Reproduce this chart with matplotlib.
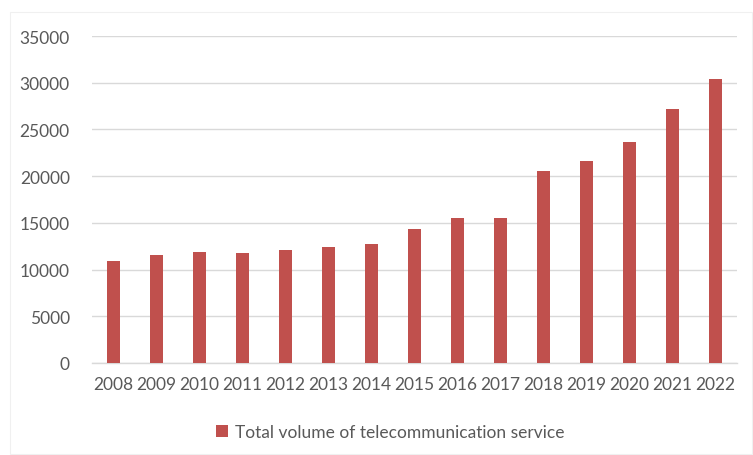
import matplotlib
matplotlib.use("Agg")
import matplotlib.pyplot as plt
from matplotlib.patches import Rectangle

years = ["2008", "2009", "2010", "2011", "2012", "2013", "2014", "2015",
         "2016", "2017", "2018", "2019", "2020", "2021", "2022"]
volume = [10890, 11540, 11890, 11820, 12110, 12390, 12790, 14290,
          15500, 15500, 20540, 21640, 23610, 27180, 30430]
series_name = "Total volume of telecommunication service"
y_ticks = [0, 5000, 10000, 15000, 20000, 25000, 30000, 35000]

plt.rcParams['font.family'] = ['Lato', 'DejaVu Sans']
text_color = '#595959'
bar_color = '#c0504d'
grid_color = '#d9d9d9'

fig = plt.figure(figsize=(7.53, 4.56), dpi=100)
fig.patch.set_facecolor('white')
# outer chart border (very faint)
fig.add_artist(Rectangle((10/753, 1-455/456), 742/753, 442/456,
                         transform=fig.transFigure, fill=False,
                         edgecolor='#f0f0f0', linewidth=0.8))

ax = fig.add_axes([92/753, 1-364/456, (737-92)/753, (364-37)/456])
x = list(range(len(years)))
bars = ax.bar(x, volume, width=0.28, color=bar_color, label=series_name, zorder=3)

ax.set_xlim(-0.5, len(years)-0.5)
ax.set_ylim(0, 35000)
ax.set_yticks(y_ticks)
ax.set_yticklabels([str(v) for v in y_ticks])
ax.set_xticks(x)
ax.set_xticklabels(years)
ax.yaxis.grid(True, color=grid_color, linewidth=1.0, zorder=0)
ax.set_axisbelow(True)
for s in ['top', 'right', 'left']:
    ax.spines[s].set_visible(False)
ax.spines['bottom'].set_color(grid_color)
ax.spines['bottom'].set_linewidth(1.0)
ax.tick_params(axis='both', length=0, labelsize=12.5, colors=text_color)
ax.tick_params(axis='y', pad=16)
ax.tick_params(axis='x', pad=9)

leg = fig.legend(handles=[bars], labels=[series_name], loc='center',
                 bbox_to_anchor=(390/753, 1-433/456), frameon=False,
                 fontsize=12.5, handlelength=0.7, handleheight=0.7,
                 handletextpad=0.4, labelcolor=text_color)

fig.savefig("out.png", dpi=100)
